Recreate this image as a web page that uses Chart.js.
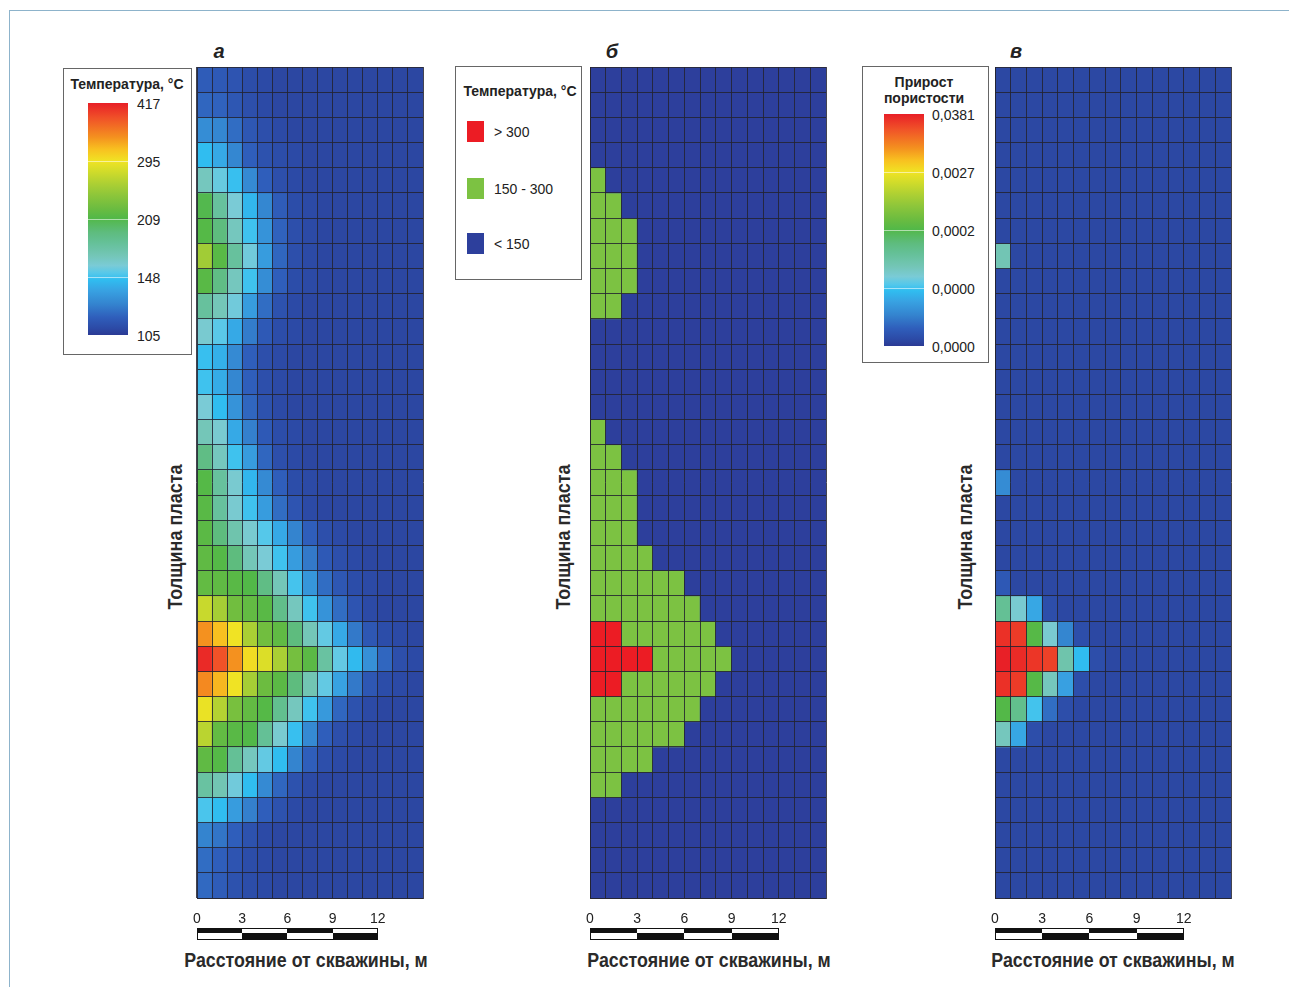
<!DOCTYPE html>
<html><head><meta charset="utf-8">
<script src="https://cdn.jsdelivr.net/npm/chart.js@4.4.1/dist/chart.umd.min.js"></script>
<style>
html,body{margin:0;padding:0;background:#fff}
body{width:1289px;height:987px;overflow:hidden;position:relative;font-family:"Liberation Sans",Arial,sans-serif;color:#2a2a2a}
.frame{position:absolute;left:9px;top:10px;width:1400px;height:1100px;border-top:1px solid #8db3cb;border-left:1px solid #8db3cb}
.c{position:absolute;transform:translate(-50%,-50%);white-space:nowrap}
.l{position:absolute;transform:translateY(-50%);white-space:nowrap}
.rot{position:absolute;transform:translate(-50%,-50%) rotate(-90deg) scaleX(0.9);white-space:nowrap;font-weight:bold;font-size:20px;color:#2a2a2a}
.xt{position:absolute;transform:translate(-50%,-50%) scaleX(0.89);white-space:nowrap;font-weight:bold;font-size:20px;color:#2a2a2a}
.letter{font-weight:bold;font-style:italic;font-size:20px;color:#222}
.box{position:absolute;border:1px solid #666;background:#fff;box-sizing:border-box}
.ttl{font-weight:bold;font-size:14px;color:#222}
.lab{font-size:14px;color:#222}
.bar{position:absolute}
.sep{position:absolute;height:1px;background:rgba(255,255,255,0.55)}
.sq{position:absolute;width:17px;height:21px}
canvas{position:absolute}
</style>
</head><body>
<div class="frame"></div>

<!-- panel letters -->
<div class="c letter" style="left:219px;top:51px">а</div>
<div class="c letter" style="left:612px;top:51px">б</div>
<div class="c letter" style="left:1016px;top:51px">в</div>

<!-- legend a -->
<div class="box" style="left:63px;top:68px;width:129px;height:287px"></div>
<div class="c ttl" style="left:127px;top:84px">Температура, °C</div>
<div class="bar" id="barA" style="left:88px;top:103px;width:40px;height:232px"></div>
<div class="sep" style="left:88px;top:161px;width:40px"></div>
<div class="sep" style="left:88px;top:219px;width:40px"></div>
<div class="sep" style="left:88px;top:277px;width:40px"></div>
<div id="labsA"></div>

<!-- legend b -->
<div class="box" style="left:455px;top:66px;width:127px;height:214px"></div>
<div class="c ttl" style="left:520px;top:91px">Температура, °C</div>
<div id="labsB"></div>

<!-- legend c -->
<div class="box" style="left:862px;top:66px;width:127px;height:297px"></div>
<div class="c ttl" style="left:924px;top:82px">Прирост</div>
<div class="c ttl" style="left:924px;top:98px">пористости</div>
<div class="bar" id="barC" style="left:884px;top:114px;width:40px;height:232px"></div>
<div class="sep" style="left:884px;top:172px;width:40px"></div>
<div class="sep" style="left:884px;top:230px;width:40px"></div>
<div class="sep" style="left:884px;top:288px;width:40px"></div>
<div id="labsC"></div>

<!-- axis titles -->
<div class="rot" style="left:175px;top:537px">Толщина пласта</div>
<div class="rot" style="left:563px;top:537px">Толщина пласта</div>
<div class="rot" style="left:965px;top:537px">Толщина пласта</div>
<div class="xt" style="left:306px;top:960px">Расстояние от скважины, м</div>
<div class="xt" style="left:709px;top:960px">Расстояние от скважины, м</div>
<div class="xt" style="left:1113px;top:960px">Расстояние от скважины, м</div>

<canvas id="chA" width="238" height="887" style="left:191px;top:61px"></canvas>
<canvas id="chB" width="248" height="887" style="left:584px;top:61px"></canvas>
<canvas id="chC" width="248" height="887" style="left:989px;top:61px"></canvas>

<script>
// ---------------- DATA ----------------
// columns: distance from the well, 1 m per cell
const cellColumns = ['0','1','2','3','4','5','6','7','8','9','10','11','12','13','14'];
// rows: layers of the formation, top (0) to bottom (32)
const layerRows = [0,1,2,3,4,5,6,7,8,9,10,11,12,13,14,15,16,17,18,19,20,21,22,23,24,25,26,27,28,29,30,31,32];
// distance scale-bar ticks, m
const scaleTicks = [0,3,6,9,12];

// panel а: temperature, °C
const tempLegendTicks = [417,295,209,148,105];
const temperatureA = [
 [117,116,114,111,110,109,109,109,109,109,109,109,109,109,109],
 [120,119,115,112,110,109,109,109,109,109,109,109,109,109,109],
 [131,129,122,115,112,110,109,109,109,109,109,109,109,109,109],
 [146,140,129,118,113,111,110,109,109,109,109,109,109,109,109],
 [168,156,147,130,118,112,110,109,109,109,109,109,109,109,109],
 [208,182,160,144,129,117,111,110,109,109,109,109,109,109,109],
 [212,195,168,148,133,119,112,110,109,109,109,109,109,109,109],
 [255,214,182,158,136,120,112,110,109,109,109,109,109,109,109],
 [214,192,168,148,131,118,111,110,109,109,109,109,109,109,109],
 [182,170,158,136,122,113,110,109,109,109,109,109,109,109,109],
 [162,153,140,126,116,111,110,109,109,109,109,109,109,109,109],
 [147,142,130,118,112,110,109,109,109,109,109,109,109,109,109],
 [148,141,129,118,112,110,109,109,109,109,109,109,109,109,109],
 [160,146,133,120,113,110,109,109,109,109,109,109,109,109,109],
 [170,162,140,127,116,111,110,109,109,109,109,109,109,109,109],
 [192,168,148,136,120,112,110,109,109,109,109,109,109,109,109],
 [212,182,162,144,130,118,111,110,109,109,109,109,109,109,109],
 [214,182,162,148,136,122,114,110,109,109,109,109,109,109,109],
 [215,195,175,162,152,140,128,118,112,110,109,109,109,109,109],
 [218,212,195,170,160,148,136,125,116,112,110,109,109,109,109],
 [220,218,214,210,192,170,149,134,122,115,111,110,109,109,109],
 [275,258,228,220,214,190,168,148,133,122,114,110,109,109,109],
 [345,320,295,260,228,218,195,170,155,140,125,115,111,110,109],
 [410,385,345,300,285,260,230,215,180,155,145,132,120,112,110],
 [350,325,295,258,225,215,195,172,155,138,125,115,111,110,109],
 [292,265,232,220,212,188,168,148,135,120,113,110,109,109,109],
 [268,220,214,210,185,162,147,130,118,112,110,109,109,109,109],
 [218,212,185,168,155,146,128,118,112,110,109,109,109,109,109],
 [180,172,158,146,130,120,113,110,109,109,109,109,109,109,109],
 [150,146,136,127,118,113,110,109,109,109,109,109,109,109,109],
 [128,124,118,113,110,109,109,109,109,109,109,109,109,109,109],
 [122,118,114,111,110,109,109,109,109,109,109,109,109,109,109],
 [121,117,113,111,110,109,109,109,109,109,109,109,109,109,109]
];

// panel б: temperature class (0: < 150, 1: 150 - 300, 2: > 300)
const classLabels = ['> 300','150 - 300','< 150'];
const tempClassB = [
 [0,0,0,0,0,0,0,0,0,0,0,0,0,0,0],
 [0,0,0,0,0,0,0,0,0,0,0,0,0,0,0],
 [0,0,0,0,0,0,0,0,0,0,0,0,0,0,0],
 [0,0,0,0,0,0,0,0,0,0,0,0,0,0,0],
 [1,0,0,0,0,0,0,0,0,0,0,0,0,0,0],
 [1,1,0,0,0,0,0,0,0,0,0,0,0,0,0],
 [1,1,1,0,0,0,0,0,0,0,0,0,0,0,0],
 [1,1,1,0,0,0,0,0,0,0,0,0,0,0,0],
 [1,1,1,0,0,0,0,0,0,0,0,0,0,0,0],
 [1,1,0,0,0,0,0,0,0,0,0,0,0,0,0],
 [0,0,0,0,0,0,0,0,0,0,0,0,0,0,0],
 [0,0,0,0,0,0,0,0,0,0,0,0,0,0,0],
 [0,0,0,0,0,0,0,0,0,0,0,0,0,0,0],
 [0,0,0,0,0,0,0,0,0,0,0,0,0,0,0],
 [1,0,0,0,0,0,0,0,0,0,0,0,0,0,0],
 [1,1,0,0,0,0,0,0,0,0,0,0,0,0,0],
 [1,1,1,0,0,0,0,0,0,0,0,0,0,0,0],
 [1,1,1,0,0,0,0,0,0,0,0,0,0,0,0],
 [1,1,1,0,0,0,0,0,0,0,0,0,0,0,0],
 [1,1,1,1,0,0,0,0,0,0,0,0,0,0,0],
 [1,1,1,1,1,1,0,0,0,0,0,0,0,0,0],
 [1,1,1,1,1,1,1,0,0,0,0,0,0,0,0],
 [2,2,1,1,1,1,1,1,0,0,0,0,0,0,0],
 [2,2,2,2,1,1,1,1,1,0,0,0,0,0,0],
 [2,2,1,1,1,1,1,1,0,0,0,0,0,0,0],
 [1,1,1,1,1,1,1,0,0,0,0,0,0,0,0],
 [1,1,1,1,1,1,0,0,0,0,0,0,0,0,0],
 [1,1,1,1,0,0,0,0,0,0,0,0,0,0,0],
 [1,1,0,0,0,0,0,0,0,0,0,0,0,0,0],
 [0,0,0,0,0,0,0,0,0,0,0,0,0,0,0],
 [0,0,0,0,0,0,0,0,0,0,0,0,0,0,0],
 [0,0,0,0,0,0,0,0,0,0,0,0,0,0,0],
 [0,0,0,0,0,0,0,0,0,0,0,0,0,0,0]
];

// panel в: porosity increase, units of 1e-6
const porosityLegendTicks = [38100,2700,200,20,0];
const porosityLegendLabels = ['0,0381','0,0027','0,0002','0,0000','0,0000'];
const porosityC = [
 [2,2,2,2,2,2,2,2,2,2,2,2,2,2,2],
 [2,2,2,2,2,2,2,2,2,2,2,2,2,2,2],
 [2,2,2,2,2,2,2,2,2,2,2,2,2,2,2],
 [2,2,2,2,2,2,2,2,2,2,2,2,2,2,2],
 [2,2,2,2,2,2,2,2,2,2,2,2,2,2,2],
 [2,2,2,2,2,2,2,2,2,2,2,2,2,2,2],
 [2,2,2,2,2,2,2,2,2,2,2,2,2,2,2],
 [90,2,2,2,2,2,2,2,2,2,2,2,2,2,2],
 [2,2,2,2,2,2,2,2,2,2,2,2,2,2,2],
 [2,2,2,2,2,2,2,2,2,2,2,2,2,2,2],
 [2,2,2,2,2,2,2,2,2,2,2,2,2,2,2],
 [2,2,2,2,2,2,2,2,2,2,2,2,2,2,2],
 [2,2,2,2,2,2,2,2,2,2,2,2,2,2,2],
 [2,2,2,2,2,2,2,2,2,2,2,2,2,2,2],
 [2,2,2,2,2,2,2,2,2,2,2,2,2,2,2],
 [2,2,2,2,2,2,2,2,2,2,2,2,2,2,2],
 [12,2,2,2,2,2,2,2,2,2,2,2,2,2,2],
 [2,2,2,2,2,2,2,2,2,2,2,2,2,2,2],
 [2,2,2,2,2,2,2,2,2,2,2,2,2,2,2],
 [2,2,2,2,2,2,2,2,2,2,2,2,2,2,2],
 [5,2,2,2,2,2,2,2,2,2,2,2,2,2,2],
 [130,60,16,3,2,2,2,2,2,2,2,2,2,2,2],
 [35000,33000,300,60,11,3,2,2,2,2,2,2,2,2,2],
 [38000,36000,34000,32000,100,19,3,2,2,2,2,2,2,2,2],
 [35000,33000,300,80,15,3,2,2,2,2,2,2,2,2,2],
 [250,140,22,8,3,2,2,2,2,2,2,2,2,2,2],
 [80,16,3,2,2,2,2,2,2,2,2,2,2,2,2],
 [2,2,2,2,2,2,2,2,2,2,2,2,2,2,2],
 [2,2,2,2,2,2,2,2,2,2,2,2,2,2,2],
 [2,2,2,2,2,2,2,2,2,2,2,2,2,2,2],
 [2,2,2,2,2,2,2,2,2,2,2,2,2,2,2],
 [2,2,2,2,2,2,2,2,2,2,2,2,2,2,2],
 [2,2,2,2,2,2,2,2,2,2,2,2,2,2,2]
];

// ---------------- STYLE ----------------
const classColors = ['#2d3f9c','#7cc242','#ec1c24'];
// colour ramp, anchored in the °C units of panel а's legend
const rampStops = [
 [105,'#2b3a94'],[110,'#2c4aa6'],[118,'#2f5ebb'],[128,'#3484cf'],[138,'#38a2e2'],
 [146,'#30bdf0'],[152,'#55c8ea'],[160,'#7acbd6'],[170,'#74c6b8'],[185,'#64c096'],
 [195,'#5ebc7e'],[210,'#52b848'],[225,'#6cbc40'],[245,'#8ec63a'],[262,'#aed033'],
 [280,'#d2dc2a'],[295,'#f0e324'],[320,'#f8c020'],[345,'#f4911f'],[385,'#f05228'],[417,'#e81f27']
];
const GRID = 'rgba(35,35,48,0.85)';
const FONT = '"Liberation Sans",Arial,sans-serif';

function piecewiseT(v, anchors){ // anchors ascending, returns 0..n-1
  if (v <= anchors[0]) return 0;
  for (let i=0;i<anchors.length-1;i++){
    if (v <= anchors[i+1]) return i + (v-anchors[i])/(anchors[i+1]-anchors[i]);
  }
  return anchors.length-1;
}
const anchorsA = tempLegendTicks.slice().reverse();
const anchorsC = porosityLegendTicks.slice().reverse();
const ramp = rampStops.map(([v,c]) => [piecewiseT(v, anchorsA), c]);
function hex(c){ return [parseInt(c.slice(1,3),16),parseInt(c.slice(3,5),16),parseInt(c.slice(5,7),16)]; }
function colorAt(t){
  for (let i=0;i<ramp.length-1;i++){
    const [t0,c0]=ramp[i],[t1,c1]=ramp[i+1];
    if (t <= t1){
      const f = t1===t0?0:Math.max(0,(t-t0)/(t1-t0));
      const a=hex(c0), b=hex(c1);
      return 'rgb('+a.map((x,k)=>Math.round(x+(b[k]-x)*f)).join(',')+')';
    }
  }
  return ramp[ramp.length-1][1];
}
// legend gradients
const grad = 'linear-gradient(to top,' + ramp.map(([t,c]) => c + ' ' + (t/4*100).toFixed(2) + '%').join(',') + ')';
document.getElementById('barA').style.background = grad;
document.getElementById('barC').style.background = grad;

let h = '';
tempLegendTicks.forEach((v,i) => { h += '<div class="l lab" style="left:137px;top:'+(104+58*i)+'px">'+v+'</div>'; });
document.getElementById('labsA').innerHTML = h;
h = '';
porosityLegendLabels.forEach((s,i) => { h += '<div class="l lab" style="left:932px;top:'+(115+58*i)+'px">'+s+'</div>'; });
document.getElementById('labsC').innerHTML = h;
h = '';
const sqTops = [121,178,233];
classLabels.forEach((s,i) => {
  h += '<div class="sq" style="left:467px;top:'+sqTops[i]+'px;background:'+classColors[2-i]+'"></div>';
  h += '<div class="l lab" style="left:494px;top:'+(sqTops[i]+11)+'px">'+s+'</div>';
});
document.getElementById('labsB').innerHTML = h;

// ---------------- CHARTS ----------------
const M = 6;
const scaleBarPlugin = {
  id: 'scaleBar',
  afterDraw(chart){
    const xs = chart.scales.xs, ctx = chart.ctx;
    const top = Math.round(chart.chartArea.bottom) + 30, hh = 12;
    ctx.save();
    for (let i=0;i<scaleTicks.length-1;i++){
      const a = Math.round(xs.getPixelForValue(scaleTicks[i])), b = Math.round(xs.getPixelForValue(scaleTicks[i+1]));
      ctx.fillStyle = i%2===0 ? '#111' : '#fff';
      ctx.fillRect(a, top, b-a, 5);
      ctx.fillStyle = i%2===0 ? '#fff' : '#111';
      ctx.fillRect(a, top+5, b-a, hh-5);
    }
    const x0 = Math.round(xs.getPixelForValue(scaleTicks[0])), x1 = Math.round(xs.getPixelForValue(scaleTicks[scaleTicks.length-1]));
    ctx.strokeStyle = '#111'; ctx.lineWidth = 1;
    ctx.strokeRect(x0+0.5, top+0.5, x1-x0-1, hh-1);
    ctx.restore();
  }
};

function heatmap(id, colorRows){
  const datasets = layerRows.map(r => ({
    data: cellColumns.map(() => [r, r+1]),
    backgroundColor: colorRows[r],
    borderWidth: 0,
    grouped: false,
    barPercentage: 1,
    categoryPercentage: 1
  }));
  return new Chart(document.getElementById(id), {
    type: 'bar',
    data: { labels: cellColumns, datasets },
    plugins: [scaleBarPlugin],
    options: {
      responsive: false, animation: false, devicePixelRatio: 1,
      layout: { padding: { top: M, right: M, left: 0, bottom: 0 } },
      plugins: { legend: { display: false }, tooltip: { enabled: false } },
      scales: {
        x: { type: 'category', offset: true,
             grid: { offset: true, color: GRID, lineWidth: 1, drawTicks: false, z: 1 },
             border: { display: true, color: GRID, z: 1 },
             ticks: { display: false },
             afterFit: s => { s.height = 0; s.paddingLeft = 0; s.paddingRight = 0; } },
        xs: { type: 'linear', position: 'bottom', min: 0, max: cellColumns.length, offset: false,
              grid: { display: false, drawTicks: false, offset: false }, border: { display: false },
              ticks: { stepSize: 3, autoSkip: false, maxRotation: 0, padding: 13, color: '#222',
                       font: { family: FONT, size: 14 },
                       callback: v => scaleTicks.includes(v) ? String(v) : '' },
              afterFit: s => { s.height = 50; s.paddingLeft = 0; s.paddingRight = 0; } },
        y: { type: 'linear', reverse: true, min: 0, max: layerRows.length,
             grid: { color: GRID, lineWidth: 1, drawTicks: false, z: 1 },
             border: { display: true, color: GRID, z: 1 },
             ticks: { display: false, stepSize: 1, autoSkip: false },
             afterFit: s => { s.width = M; s.paddingTop = 0; s.paddingBottom = 0; } }
      }
    }
  });
}

heatmap('chA', temperatureA.map(row => row.map(v => colorAt(piecewiseT(v, anchorsA)))));
heatmap('chB', tempClassB.map(row => row.map(k => classColors[k])));
heatmap('chC', porosityC.map(row => row.map(v => colorAt(piecewiseT(v, anchorsC)))));
</script>
</body></html>
